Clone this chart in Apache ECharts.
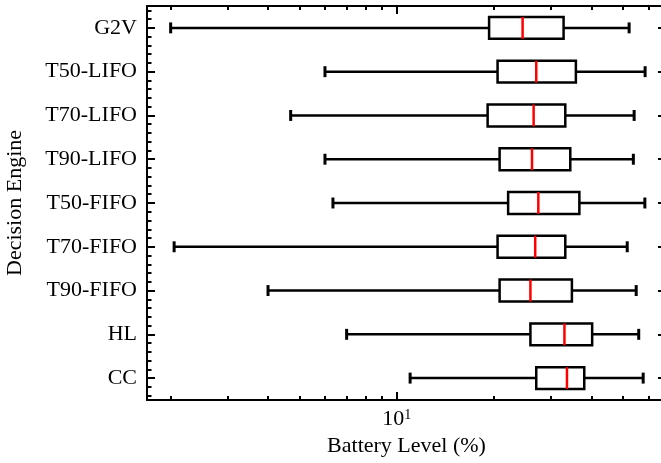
<!DOCTYPE html>
<html>
<head>
<meta charset="utf-8">
<script src="https://cdn.jsdelivr.net/npm/echarts@6/dist/echarts.min.js"></script>
<style>
  html, body { margin: 0; padding: 0; background: #fff; }
  #chart { width: 661px; height: 463px; }
</style>
</head>
<body>
<div id="chart"></div>
<script>
// Decision engines, top to bottom
const categories = ['G2V', 'T50-LIFO', 'T70-LIFO', 'T90-LIFO', 'T50-FIFO', 'T70-FIFO', 'T90-FIFO', 'HL', 'CC'];

// Box statistics of battery level (%) per engine
const whiskerLow  = [2.0, 6.0, 4.7, 6.0, 6.35, 2.05, 4.0, 7.0, 11.0];
const q1          = [19.3, 20.5, 19.1, 20.8, 22.1, 20.5, 20.8, 25.9, 27.0];
const median      = [24.5, 27.0, 26.5, 26.2, 27.4, 26.8, 25.9, 33.0, 33.6];
const q3          = [32.8, 35.8, 33.2, 34.4, 36.7, 33.2, 34.8, 40.2, 38.0];
const whiskerHigh = [52.3, 58.6, 54.2, 53.9, 58.5, 51.6, 55.0, 56.0, 57.8];

// Log-axis tick values
const majorTicks = [10];
const minorTicks = [2, 3, 4, 5, 6, 7, 8, 9, 20, 30, 40, 50, 60];

const X_MIN = 1.69, X_MAX = 68;
const FONT = "'Liberation Serif', 'DejaVu Serif', serif";
const FS = 22;

// row position (1..n) + five-number summary
const rows = categories.map((c, i) => [i + 1, whiskerLow[i], q1[i], median[i], q3[i], whiskerHigh[i]]);

const BOX_HALF = 0.25;
const CAP_HALF = 0.125;
const LW = 2.5;

function renderBox(params, api) {
  const y = api.value(0);
  const lo = api.value(1), a = api.value(2), m = api.value(3), b = api.value(4), hi = api.value(5);
  const P = (x, yy) => api.coord([x, yy]);
  const black = { stroke: '#000', lineWidth: LW, fill: null };
  const line = (p1, p2, style) => ({
    type: 'line',
    shape: { x1: p1[0], y1: p1[1], x2: p2[0], y2: p2[1] },
    style: style
  });
  const boxTL = P(a, y - BOX_HALF), boxBR = P(b, y + BOX_HALF);
  return {
    type: 'group',
    children: [
      line(P(lo, y), P(a, y), black),
      line(P(b, y), P(hi, y), black),
      line(P(lo, y - CAP_HALF), P(lo, y + CAP_HALF), Object.assign({}, black, { lineWidth: 3 })),
      line(P(hi, y - CAP_HALF), P(hi, y + CAP_HALF), Object.assign({}, black, { lineWidth: 3 })),
      {
        type: 'rect',
        shape: {
          x: Math.min(boxTL[0], boxBR[0]), y: Math.min(boxTL[1], boxBR[1]),
          width: Math.abs(boxBR[0] - boxTL[0]), height: Math.abs(boxBR[1] - boxTL[1])
        },
        style: { stroke: '#000', lineWidth: LW, fill: '#fff' }
      },
      line(P(m, y - BOX_HALF), P(m, y + BOX_HALF), { stroke: '#ff0000', lineWidth: LW })
    ]
  };
}

const tickBase = { show: true, inside: true, lineStyle: { color: '#000', width: 2 } };

function xAxisBase(position) {
  return {
    type: 'log', logBase: 10, min: X_MIN, max: X_MAX, position: position,
    splitLine: { show: false }, minorTick: { show: false }, minorSplitLine: { show: false }
  };
}

function yAxisBase(position) {
  return {
    type: 'value', inverse: true, min: 0.5, max: categories.length + 0.5, splitNumber: categories.length,
    position: position,
    axisLine: { show: true, onZero: false, lineStyle: { color: '#000', width: 2 } },
    axisTick: Object.assign({}, tickBase, { length: 8 }),
    minorTick: { show: true, splitNumber: 5, length: 4.5, lineStyle: { color: '#000', width: 2 } },
    splitLine: { show: false }
  };
}

const chart = echarts.init(document.getElementById('chart'), null, { renderer: 'canvas' });

chart.setOption({
  backgroundColor: '#fff',
  animation: false,
  grid: { left: 147, right: -5, top: 6, bottom: 63, outerBoundsMode: 'none', containLabel: false },
  xAxis: [
    Object.assign(xAxisBase('bottom'), {
      axisLine: { show: true, onZero: false, lineStyle: { color: '#000', width: 2 } },
      axisTick: Object.assign({}, tickBase, { length: 8, customValues: majorTicks }),
      axisLabel: {
        customValues: majorTicks, margin: 8, color: '#000', fontFamily: FONT, fontSize: FS,
        formatter: v => '{b|10}{s|' + Math.round(Math.log10(v)) + '}',
        rich: {
          b: { fontFamily: FONT, fontSize: FS, color: '#000' },
          s: { fontFamily: FONT, fontSize: 14, color: '#000', verticalAlign: 'top', padding: [0, 0, 8, 0] }
        }
      },
      name: 'Battery Level (%)', nameLocation: 'middle', nameGap: 32,
      nameTextStyle: { fontFamily: FONT, fontSize: FS, color: '#000' }
    }),
    Object.assign(xAxisBase('bottom'), {
      axisLine: { show: false, onZero: false },
      axisTick: Object.assign({}, tickBase, { length: 4, customValues: minorTicks }),
      axisLabel: { show: false }
    }),
    Object.assign(xAxisBase('top'), {
      axisLine: { show: true, onZero: false, lineStyle: { color: '#000', width: 2 } },
      axisTick: Object.assign({}, tickBase, { length: 8, customValues: majorTicks }),
      axisLabel: { show: false }
    }),
    Object.assign(xAxisBase('top'), {
      axisLine: { show: false, onZero: false },
      axisTick: Object.assign({}, tickBase, { length: 4, customValues: minorTicks }),
      axisLabel: { show: false }
    })
  ],
  yAxis: [
    Object.assign(yAxisBase('left'), {
      axisLabel: {
        margin: 10, color: '#000', fontFamily: FONT, fontSize: FS,
        formatter: v => (Number.isInteger(v) && v >= 1 && v <= categories.length) ? categories[v - 1] : ''
      },
      name: 'Decision Engine', nameLocation: 'middle', nameGap: 121, nameRotate: 90,
      nameTextStyle: { fontFamily: FONT, fontSize: FS, color: '#000' }
    }),
    Object.assign(yAxisBase('right'), { axisLabel: { show: false } })
  ],
  series: [{
    type: 'custom',
    xAxisIndex: 0,
    yAxisIndex: 0,
    renderItem: renderBox,
    encode: { y: 0, x: [1, 2, 3, 4, 5] },
    data: rows,
    clip: false
  }]
});
</script>
</body>
</html>
